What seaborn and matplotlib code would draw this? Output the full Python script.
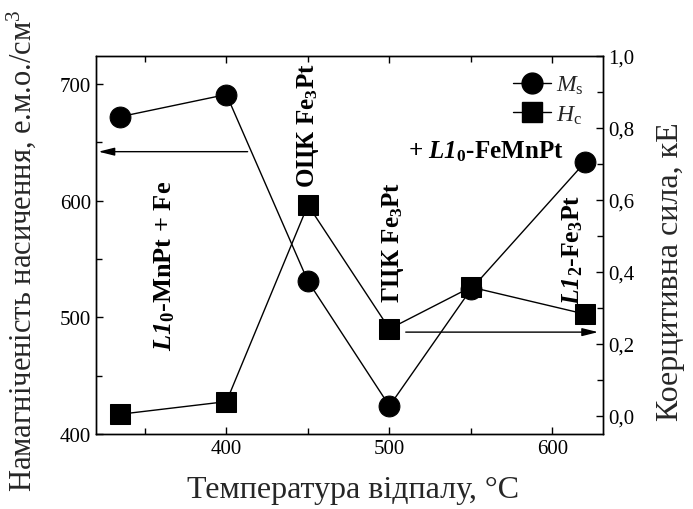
import matplotlib
matplotlib.use("Agg")
import matplotlib.pyplot as plt
import seaborn as sns
import numpy as np
from matplotlib.ticker import MultipleLocator, FuncFormatter
from matplotlib.lines import Line2D

# Data
temps = [335, 400, 450, 500, 550, 620]
ms_values = [672, 691, 531, 424, 524, 633]
hc_values = [0.005, 0.04, 0.586, 0.242, 0.358, 0.283]

x_label = "Температура відпалу, °C"
y_left_label = "Намагніченість насичення, е.м.о./см$^3$"
y_right_label = "Коерцитивна сила, кЕ"

sns.set_theme(style="ticks")
plt.rcParams["font.family"] = ["Liberation Serif", "DejaVu Serif"]
plt.rcParams["mathtext.fontset"] = "custom"
plt.rcParams["mathtext.rm"] = "Liberation Serif"
plt.rcParams["mathtext.it"] = "Liberation Serif:italic"
plt.rcParams["mathtext.bf"] = "Liberation Serif:bold"
try:
    plt.rcParams["mathtext.bfit"] = "Liberation Serif:italic:bold"
    BFIT = True
except KeyError:
    BFIT = False

fig = plt.figure(figsize=(6.93, 5.10), dpi=100)
ax = fig.add_axes([96/693, 1-435/510, (603-96)/693, (435-57)/510])
ax2 = ax.twinx()

sns.lineplot(x=temps, y=ms_values, ax=ax, color="black", marker="o",
             markersize=15, linewidth=1.0, markeredgecolor="black")
sns.lineplot(x=temps, y=hc_values, ax=ax2, color="black", marker="s",
             markersize=14, linewidth=1.0, markeredgecolor="black")

ax.set_xlim(320, 631)
ax.set_ylim(400, 724)
ax2.set_ylim(-0.05, 1.0)

ax.xaxis.set_major_locator(MultipleLocator(100))
ax.xaxis.set_minor_locator(MultipleLocator(50))
ax.yaxis.set_major_locator(MultipleLocator(100))
ax.yaxis.set_minor_locator(MultipleLocator(50))
ax2.yaxis.set_major_locator(MultipleLocator(0.2))
ax2.yaxis.set_minor_locator(MultipleLocator(0.1))
ax2.yaxis.set_major_formatter(FuncFormatter(lambda v, p: f"{v:.1f}".replace(".", ",")))

for a in (ax, ax2):
    for s in a.spines.values():
        s.set_linewidth(1.0)
        s.set_color("black")
ax.tick_params(which="both", direction="in", top=True, right=False,
               labelsize=15, colors="black", width=1.0)
ax.tick_params(which="major", length=5)
ax.tick_params(which="minor", length=4)
ax2.tick_params(which="both", direction="in", labelsize=15, colors="black", width=1.0)
ax2.tick_params(which="major", length=5)
ax2.tick_params(which="minor", length=4)

ax.set_xlabel(x_label, fontsize=23)
ax.xaxis.set_label_coords(0.507, -0.108)
ax.set_ylabel(y_left_label, fontsize=22)
ax.yaxis.set_label_coords(-0.114, 0.487)
ax2.set_ylabel(y_right_label, fontsize=23)
ax2.yaxis.set_label_coords(1.105, 0.432)

# Arrows
ax.annotate("", xy=(321.5, 642), xytext=(413, 642),
            arrowprops=dict(arrowstyle="-|>,head_length=0.8,head_width=0.2",
                            color="black", lw=1.0, shrinkA=0, shrinkB=0))
ax2.annotate("", xy=(628, 0.233), xytext=(510, 0.233),
             arrowprops=dict(arrowstyle="-|>,head_length=0.8,head_width=0.2",
                             color="black", lw=1.0, shrinkA=0, shrinkB=0))

L1 = r"$\mathbfit{L1}$" if BFIT else r"$\mathbf{L1}$"
txt_kw = dict(fontweight="bold", color="black")
ax.text(362, 545, L1 + r"$_\mathbf{0}$-MnPt + Fe", rotation=90, ha="center", va="center",
        fontsize=19, **txt_kw)
ax.text(450, 719, r"ОЦК Fe$_\mathbf{3}$Pt", rotation=90, ha="center", va="top",
        fontsize=18, **txt_kw)
ax.text(502, 513, r"ГЦК Fe$_\mathbf{3}$Pt", rotation=90, ha="center", va="bottom",
        fontsize=18, **txt_kw)
ax.text(612.5, 511.5, L1 + r"$_\mathbf{2}$-Fe$_\mathbf{3}$Pt", rotation=90, ha="center", va="bottom",
        fontsize=18.5, **txt_kw)
ax.text(559, 643, "+ " + L1 + r"$_\mathbf{0}$-FeMnPt", ha="center", va="center",
        fontsize=18, **txt_kw)

handles = [Line2D([], [], color="black", marker="o", markersize=15, lw=1.0),
           Line2D([], [], color="black", marker="s", markersize=14, lw=1.0)]
ax.legend(handles, [r"$M_\mathrm{s}$", r"$H_\mathrm{c}$"], loc="upper right",
          bbox_to_anchor=(0.99, 0.99), frameon=False, fontsize=17,
          handlelength=1.6, handletextpad=0.2, labelspacing=0.3, borderaxespad=0.2)

fig.savefig("out.png", dpi=100)
